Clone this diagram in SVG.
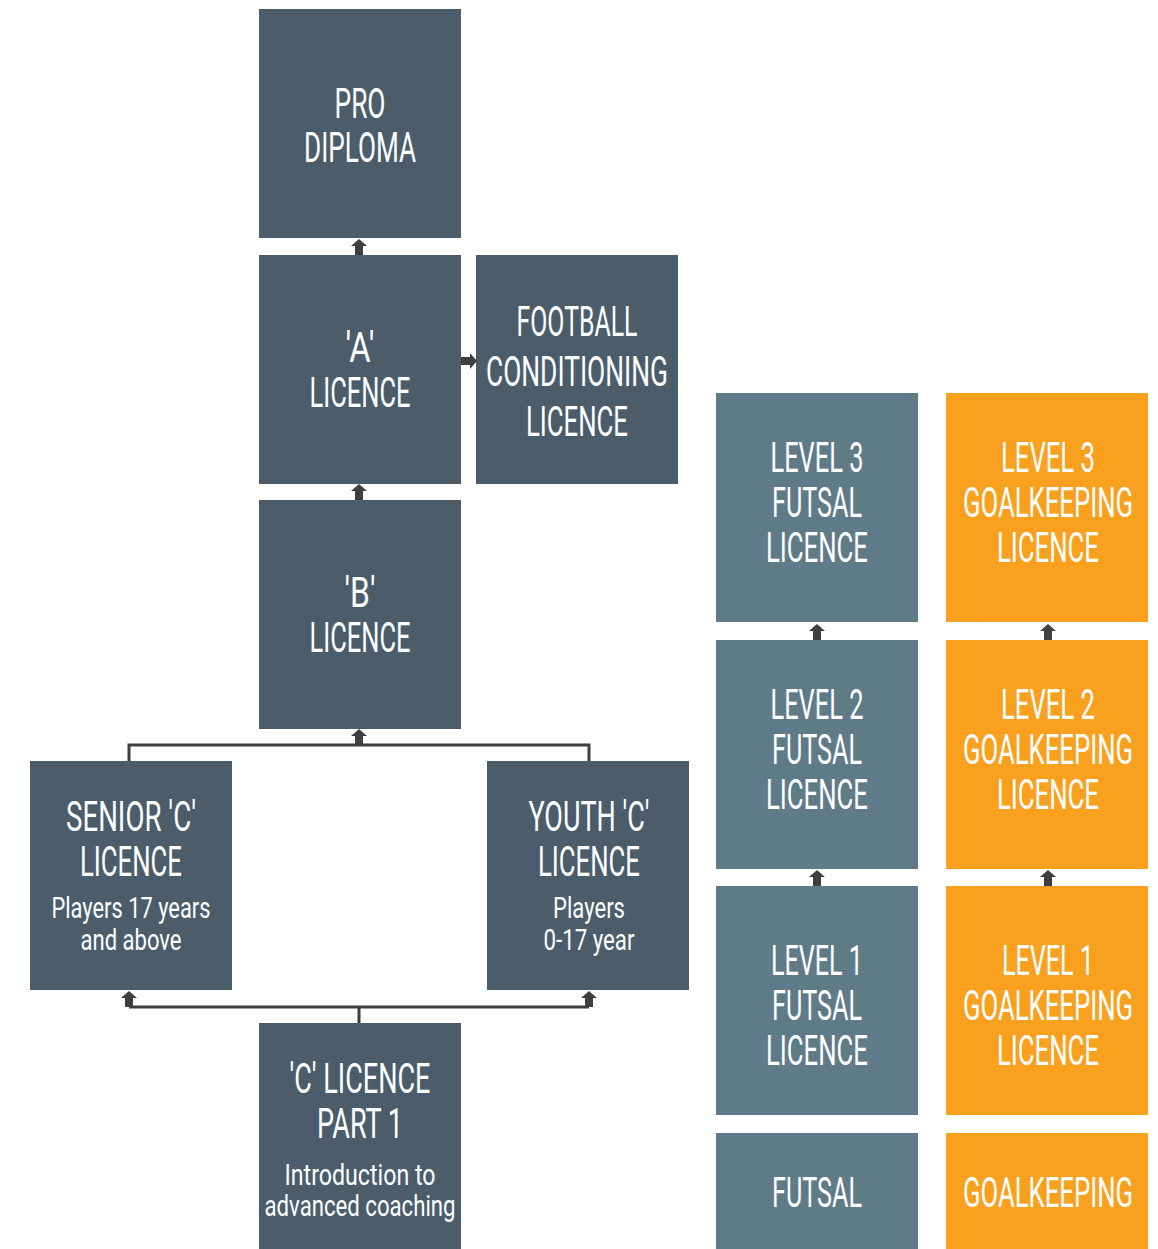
<svg xmlns="http://www.w3.org/2000/svg" width="1158" height="1249" viewBox="0 0 1158 1249">
<style>
.dark{fill:#4b5d6b}
.fut{fill:#607b88}
.gk{fill:#f9a11f}
text{fill:#ffffff;font-family:Roboto,"Liberation Sans",sans-serif;text-anchor:middle}
.t{font-size:42px}
.s{font-size:29px}
.ln{stroke:#3f3f42;stroke-width:3;fill:none}
.ah{fill:#3f3f42}
</style>
<defs>
<path id="up" d="M0,0 L8,7 L4,7 L4,16 L-4,16 L-4,7 L-8,7 Z"/>
</defs>
<rect width="1158" height="1249" fill="#ffffff"/>
<g id="pro"><rect class="dark" x="259" y="9" width="202" height="229"/>
<text class="t" x="360" y="118" textLength="51" lengthAdjust="spacingAndGlyphs">PRO</text>
<text class="t" x="360" y="162" textLength="112" lengthAdjust="spacingAndGlyphs">DIPLOMA</text></g>
<g id="a"><rect class="dark" x="259" y="255" width="202" height="229"/>
<text class="t" x="360" y="362" textLength="29" lengthAdjust="spacingAndGlyphs">'A'</text>
<text class="t" x="360" y="407" textLength="101" lengthAdjust="spacingAndGlyphs">LICENCE</text></g>
<g id="fcl"><rect class="dark" x="476" y="255" width="202" height="229"/>
<text class="t" x="577" y="336" textLength="121" lengthAdjust="spacingAndGlyphs">FOOTBALL</text>
<text class="t" x="577" y="386" textLength="182" lengthAdjust="spacingAndGlyphs">CONDITIONING</text>
<text class="t" x="577" y="436" textLength="102" lengthAdjust="spacingAndGlyphs">LICENCE</text></g>
<g id="b"><rect class="dark" x="259" y="500" width="202" height="229"/>
<text class="t" x="360" y="607" textLength="31" lengthAdjust="spacingAndGlyphs">'B'</text>
<text class="t" x="360" y="652" textLength="101" lengthAdjust="spacingAndGlyphs">LICENCE</text></g>
<g id="senior"><rect class="dark" x="30" y="761" width="202" height="229"/>
<text class="t" x="131" y="831" textLength="130" lengthAdjust="spacingAndGlyphs">SENIOR 'C'</text>
<text class="t" x="131" y="876" textLength="102" lengthAdjust="spacingAndGlyphs">LICENCE</text>
<text class="s" x="131" y="918" textLength="159" lengthAdjust="spacingAndGlyphs">Players 17 years</text>
<text class="s" x="131" y="950" textLength="101" lengthAdjust="spacingAndGlyphs">and above</text></g>
<g id="youth"><rect class="dark" x="487" y="761" width="202" height="229"/>
<text class="t" x="589" y="831" textLength="121" lengthAdjust="spacingAndGlyphs">YOUTH 'C'</text>
<text class="t" x="589" y="876" textLength="102" lengthAdjust="spacingAndGlyphs">LICENCE</text>
<text class="s" x="589" y="918" textLength="72" lengthAdjust="spacingAndGlyphs">Players</text>
<text class="s" x="589" y="950" textLength="91" lengthAdjust="spacingAndGlyphs">0-17 year</text></g>
<g id="c1"><rect class="dark" x="259" y="1023" width="202" height="226"/>
<text class="t" x="360" y="1093" textLength="141" lengthAdjust="spacingAndGlyphs">'C' LICENCE</text>
<text class="t" x="360" y="1138" textLength="86" lengthAdjust="spacingAndGlyphs">PART 1</text>
<text class="s" x="360" y="1185" textLength="151" lengthAdjust="spacingAndGlyphs">Introduction to</text>
<text class="s" x="360" y="1216" textLength="191" lengthAdjust="spacingAndGlyphs">advanced coaching</text></g>
<g id="f3"><rect class="fut" x="716" y="393" width="202" height="229"/>
<text class="t" x="817" y="472" textLength="93" lengthAdjust="spacingAndGlyphs">LEVEL 3</text>
<text class="t" x="817" y="517" textLength="90" lengthAdjust="spacingAndGlyphs">FUTSAL</text>
<text class="t" x="817" y="562" textLength="102" lengthAdjust="spacingAndGlyphs">LICENCE</text></g>
<g id="f2"><rect class="fut" x="716" y="640" width="202" height="229"/>
<text class="t" x="817" y="719" textLength="93" lengthAdjust="spacingAndGlyphs">LEVEL 2</text>
<text class="t" x="817" y="764" textLength="90" lengthAdjust="spacingAndGlyphs">FUTSAL</text>
<text class="t" x="817" y="809" textLength="102" lengthAdjust="spacingAndGlyphs">LICENCE</text></g>
<g id="f1"><rect class="fut" x="716" y="886" width="202" height="229"/>
<text class="t" x="817" y="975" textLength="92" lengthAdjust="spacingAndGlyphs">LEVEL 1</text>
<text class="t" x="817" y="1020" textLength="90" lengthAdjust="spacingAndGlyphs">FUTSAL</text>
<text class="t" x="817" y="1065" textLength="102" lengthAdjust="spacingAndGlyphs">LICENCE</text></g>
<g id="f0"><rect class="fut" x="716" y="1133" width="202" height="116"/>
<text class="t" x="817" y="1207" textLength="90" lengthAdjust="spacingAndGlyphs">FUTSAL</text></g>
<g id="g3"><rect class="gk" x="946" y="393" width="202" height="229"/>
<text class="t" x="1048" y="472" textLength="94" lengthAdjust="spacingAndGlyphs">LEVEL 3</text>
<text class="t" x="1048" y="517" textLength="170" lengthAdjust="spacingAndGlyphs">GOALKEEPING</text>
<text class="t" x="1048" y="562" textLength="102" lengthAdjust="spacingAndGlyphs">LICENCE</text></g>
<g id="g2"><rect class="gk" x="946" y="640" width="202" height="229"/>
<text class="t" x="1048" y="719" textLength="94" lengthAdjust="spacingAndGlyphs">LEVEL 2</text>
<text class="t" x="1048" y="764" textLength="170" lengthAdjust="spacingAndGlyphs">GOALKEEPING</text>
<text class="t" x="1048" y="809" textLength="102" lengthAdjust="spacingAndGlyphs">LICENCE</text></g>
<g id="g1"><rect class="gk" x="946" y="886" width="202" height="229"/>
<text class="t" x="1048" y="975" textLength="92" lengthAdjust="spacingAndGlyphs">LEVEL 1</text>
<text class="t" x="1048" y="1020" textLength="170" lengthAdjust="spacingAndGlyphs">GOALKEEPING</text>
<text class="t" x="1048" y="1065" textLength="102" lengthAdjust="spacingAndGlyphs">LICENCE</text></g>
<g id="g0"><rect class="gk" x="946" y="1133" width="202" height="116"/>
<text class="t" x="1048" y="1207" textLength="170" lengthAdjust="spacingAndGlyphs">GOALKEEPING</text></g>
<g id="connectors">
<path class="ln" d="M129,761 V745 H589 V761"/>
<path class="ln" d="M129,1007 H589 M359,1007 V1023"/>
<use href="#up" class="ah" x="359" y="239"/>
<use href="#up" class="ah" x="359" y="484"/>
<use href="#up" class="ah" x="359" y="729"/>
<use href="#up" class="ah" x="129" y="991"/>
<use href="#up" class="ah" x="589" y="991"/>
<use href="#up" class="ah" x="817" y="624"/>
<use href="#up" class="ah" x="817" y="870"/>
<use href="#up" class="ah" x="1048" y="624"/>
<use href="#up" class="ah" x="1048" y="870"/>
<path class="ah" d="M477,361 L470,353 L470,357 L461,357 L461,365 L470,365 L470,369 Z"/>
</g>
</svg>
